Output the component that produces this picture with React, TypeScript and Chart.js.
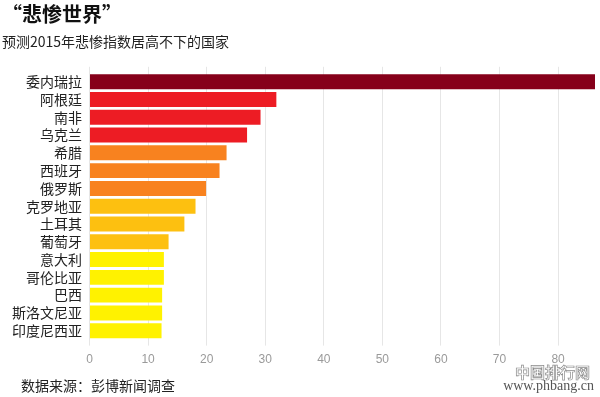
import React, { useEffect, useRef } from "react";
import { Chart, registerables } from "chart.js";

Chart.register(...registerables);

const titleText = "“悲惨世界”";
const subtitleText = "预测2015年悲惨指数居高不下的国家";
const sourceText = "数据来源：彭博新闻调查";
const watermarkCn = "中国排行网";
const watermarkUrl = "www.phbang.cn";

const countries = [
  "委内瑞拉",
  "阿根廷",
  "南非",
  "乌克兰",
  "希腊",
  "西班牙",
  "俄罗斯",
  "克罗地亚",
  "土耳其",
  "葡萄牙",
  "意大利",
  "哥伦比亚",
  "巴西",
  "斯洛文尼亚",
  "印度尼西亚",
];

const miseryIndex = [86.3, 31.9, 29.2, 26.9, 23.4, 22.2, 19.9, 18.1, 16.2, 13.5, 12.7, 12.7, 12.4, 12.4, 12.3];

const barColors = [
  "#86001a",
  "#ed1c24",
  "#ed1c24",
  "#ed1c24",
  "#f8821f",
  "#f8821f",
  "#f8821f",
  "#fdc010",
  "#fdc010",
  "#fdc010",
  "#fff200",
  "#fff200",
  "#fff200",
  "#fff200",
  "#fff200",
];

const tickStep = 10;

const CJK = "'Noto Sans CJK SC', 'Noto Sans', sans-serif";
const GRID = "#e6e6e6";

export default function App() {
  const canvasRef = useRef<HTMLCanvasElement | null>(null);

  useEffect(() => {
    if (!canvasRef.current) return;
    const xMax = Math.max(...miseryIndex);
    const chart = new Chart(canvasRef.current, {
      type: "bar",
      data: {
        labels: countries,
        datasets: [
          {
            data: miseryIndex,
            backgroundColor: barColors,
            borderWidth: 0,
            categoryPercentage: 1,
            barPercentage: 0.84,
          },
        ],
      },
      options: {
        indexAxis: "y",
        animation: false,
        responsive: true,
        maintainAspectRatio: false,
        layout: { padding: { left: 2, right: 5, top: 0, bottom: 23 } },
        plugins: {
          legend: { display: false },
          tooltip: { enabled: false },
          title: {
            display: true,
            text: titleText,
            align: "start",
            color: "#111",
            font: { family: CJK, size: 20, weight: "bold" },
            padding: { top: 2, bottom: 4 },
          },
          subtitle: {
            display: true,
            text: subtitleText,
            align: "start",
            color: "#222",
            font: { family: CJK, size: 14 },
            padding: { top: 3, bottom: 17 },
          },
        },
        scales: {
          x: {
            type: "linear",
            position: "bottom",
            min: 0,
            max: xMax,
            border: { display: false },
            grid: { color: GRID, drawTicks: true, tickLength: 6 },
            ticks: {
              stepSize: tickStep,
              includeBounds: false,
              color: "#9a9a9a",
              padding: 7,
              font: { family: "'Liberation Sans', Arial, sans-serif", size: 12 },
            },
          },
          x2: {
            type: "linear",
            position: "top",
            min: 0,
            max: xMax,
            border: { display: false },
            grid: { color: GRID, drawOnChartArea: false, drawTicks: true, tickLength: 6 },
            ticks: { display: false, stepSize: tickStep, includeBounds: false },
          },
          y: {
            type: "category",
            offset: true,
            border: { display: false },
            grid: { display: false, drawTicks: false },
            ticks: {
              autoSkip: false,
              color: "#222",
              padding: 7.5,
              font: { family: CJK, size: 14 },
            },
            afterFit: (scale: any) => {
              scale.width = 87.5;
            },
          },
        },
      },
    });
    return () => chart.destroy();
  }, []);

  return (
    <div style={{ position: "fixed", left: 0, top: 0, width: 600, height: 397, background: "#fff" }}>
      <canvas ref={canvasRef} />
      <div
        style={{
          position: "absolute",
          left: 21,
          top: 375,
          fontFamily: CJK,
          fontSize: 14,
          lineHeight: "20px",
          color: "#222",
          whiteSpace: "nowrap",
        }}
      >
        {sourceText}
      </div>
      <div
        style={{
          position: "absolute",
          right: 10,
          top: 363,
          fontFamily: CJK,
          fontSize: 15,
          fontWeight: "bold",
          lineHeight: "17px",
          color: "transparent",
          WebkitTextStroke: "0.7px #8a8a8a",
          whiteSpace: "nowrap",
          letterSpacing: 0,
        }}
      >
        {watermarkCn}
      </div>
      <div
        style={{
          position: "absolute",
          right: 6,
          top: 377,
          fontFamily: "'Liberation Serif', 'DejaVu Serif', serif",
          fontSize: 14,
          lineHeight: "17px",
          color: "#555",
          whiteSpace: "nowrap",
        }}
      >
        {watermarkUrl}
      </div>
    </div>
  );
}
